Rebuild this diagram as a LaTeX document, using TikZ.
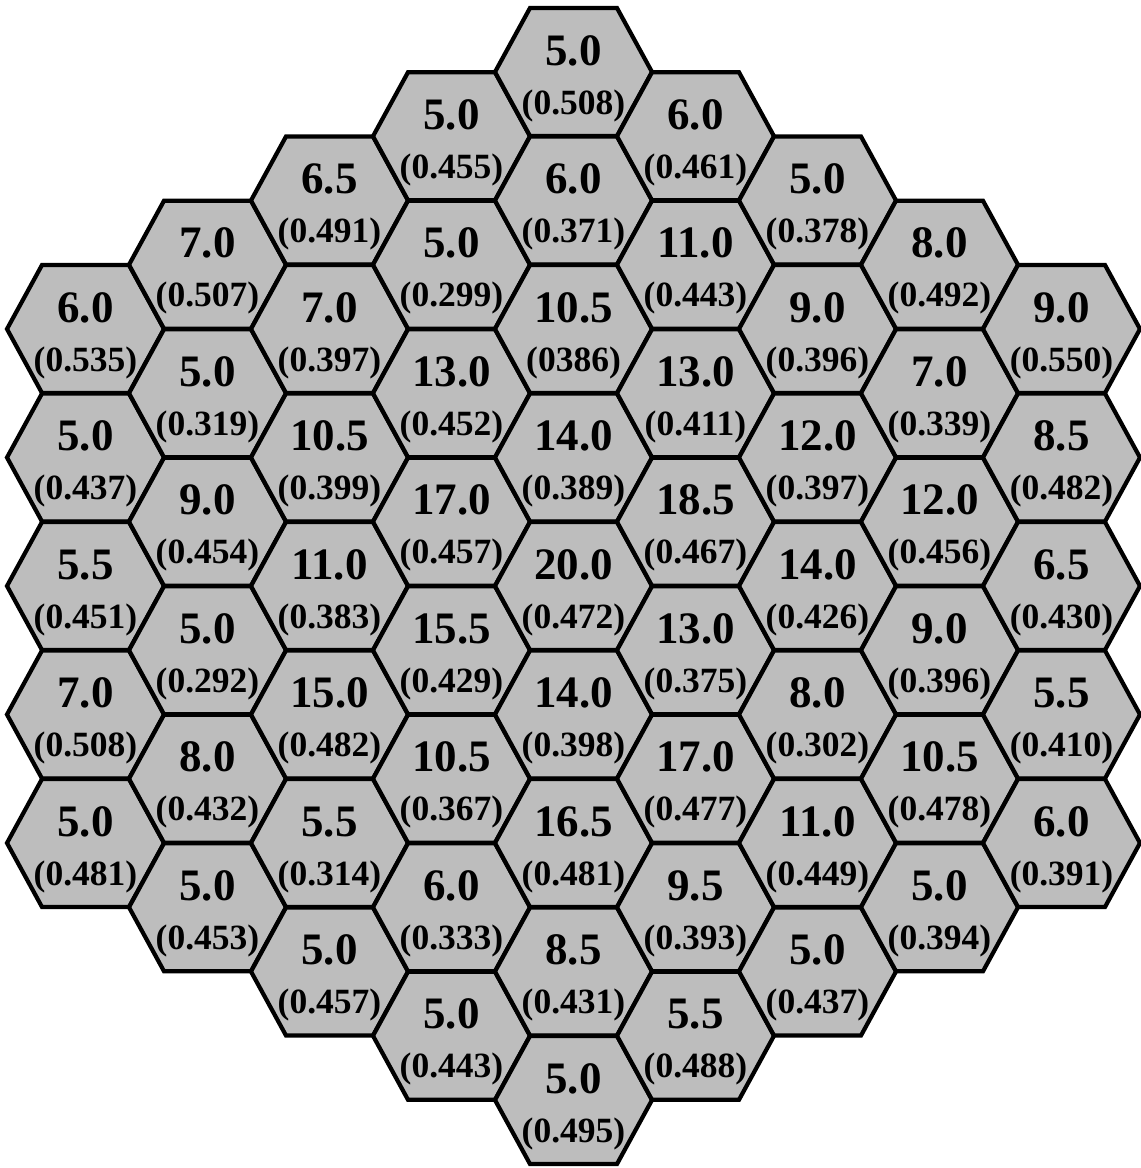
\documentclass[tikz,border=0pt]{standalone}
\usepackage{fontspec}
\setmainfont{Liberation Serif}
\tikzset{
  hexline/.style={draw=black, line width=4.2pt, line join=miter, fill=black!26},
  toplab/.style={anchor=base, inner sep=0pt, font=\bfseries\fontsize{45}{45}\selectfont},
  botlab/.style={anchor=base, inner sep=0pt, font=\bfseries\fontsize{35.5}{35.5}\selectfont},
}
\newcommand\hexcell[4]{%
  \pgfmathsetmacro\cx{85.5+122*#1}%
  \pgfmathsetmacro\cy{72+64.25*abs(#1-4)+128.5*#2}%
  \path[hexline] (\cx-43.5,\cy-64) -- (\cx+43.5,\cy-64) -- (\cx+78.5,\cy) -- (\cx+43.5,\cy+64) -- (\cx-43.5,\cy+64) -- (\cx-78.5,\cy) -- cycle;
  \node[toplab] (t#1-#2) at (\cx,\cy-7) {#3};
  \node[botlab] (b#1-#2) at (\cx,\cy+42) {#4};
}
\begin{document}
\begin{tikzpicture}[x=1pt,y=-1pt]
\useasboundingbox (0,0) rectangle (1141,1168);
% column 0
\hexcell{0}{0}{6.0}{(0.535)}
\hexcell{0}{1}{5.0}{(0.437)}
\hexcell{0}{2}{5.5}{(0.451)}
\hexcell{0}{3}{7.0}{(0.508)}
\hexcell{0}{4}{5.0}{(0.481)}
% column 1
\hexcell{1}{0}{7.0}{(0.507)}
\hexcell{1}{1}{5.0}{(0.319)}
\hexcell{1}{2}{9.0}{(0.454)}
\hexcell{1}{3}{5.0}{(0.292)}
\hexcell{1}{4}{8.0}{(0.432)}
\hexcell{1}{5}{5.0}{(0.453)}
% column 2
\hexcell{2}{0}{6.5}{(0.491)}
\hexcell{2}{1}{7.0}{(0.397)}
\hexcell{2}{2}{10.5}{(0.399)}
\hexcell{2}{3}{11.0}{(0.383)}
\hexcell{2}{4}{15.0}{(0.482)}
\hexcell{2}{5}{5.5}{(0.314)}
\hexcell{2}{6}{5.0}{(0.457)}
% column 3
\hexcell{3}{0}{5.0}{(0.455)}
\hexcell{3}{1}{5.0}{(0.299)}
\hexcell{3}{2}{13.0}{(0.452)}
\hexcell{3}{3}{17.0}{(0.457)}
\hexcell{3}{4}{15.5}{(0.429)}
\hexcell{3}{5}{10.5}{(0.367)}
\hexcell{3}{6}{6.0}{(0.333)}
\hexcell{3}{7}{5.0}{(0.443)}
% column 4
\hexcell{4}{0}{5.0}{(0.508)}
\hexcell{4}{1}{6.0}{(0.371)}
\hexcell{4}{2}{10.5}{(0386)}
\hexcell{4}{3}{14.0}{(0.389)}
\hexcell{4}{4}{20.0}{(0.472)}
\hexcell{4}{5}{14.0}{(0.398)}
\hexcell{4}{6}{16.5}{(0.481)}
\hexcell{4}{7}{8.5}{(0.431)}
\hexcell{4}{8}{5.0}{(0.495)}
% column 5
\hexcell{5}{0}{6.0}{(0.461)}
\hexcell{5}{1}{11.0}{(0.443)}
\hexcell{5}{2}{13.0}{(0.411)}
\hexcell{5}{3}{18.5}{(0.467)}
\hexcell{5}{4}{13.0}{(0.375)}
\hexcell{5}{5}{17.0}{(0.477)}
\hexcell{5}{6}{9.5}{(0.393)}
\hexcell{5}{7}{5.5}{(0.488)}
% column 6
\hexcell{6}{0}{5.0}{(0.378)}
\hexcell{6}{1}{9.0}{(0.396)}
\hexcell{6}{2}{12.0}{(0.397)}
\hexcell{6}{3}{14.0}{(0.426)}
\hexcell{6}{4}{8.0}{(0.302)}
\hexcell{6}{5}{11.0}{(0.449)}
\hexcell{6}{6}{5.0}{(0.437)}
% column 7
\hexcell{7}{0}{8.0}{(0.492)}
\hexcell{7}{1}{7.0}{(0.339)}
\hexcell{7}{2}{12.0}{(0.456)}
\hexcell{7}{3}{9.0}{(0.396)}
\hexcell{7}{4}{10.5}{(0.478)}
\hexcell{7}{5}{5.0}{(0.394)}
% column 8
\hexcell{8}{0}{9.0}{(0.550)}
\hexcell{8}{1}{8.5}{(0.482)}
\hexcell{8}{2}{6.5}{(0.430)}
\hexcell{8}{3}{5.5}{(0.410)}
\hexcell{8}{4}{6.0}{(0.391)}
\end{tikzpicture}
\end{document}
